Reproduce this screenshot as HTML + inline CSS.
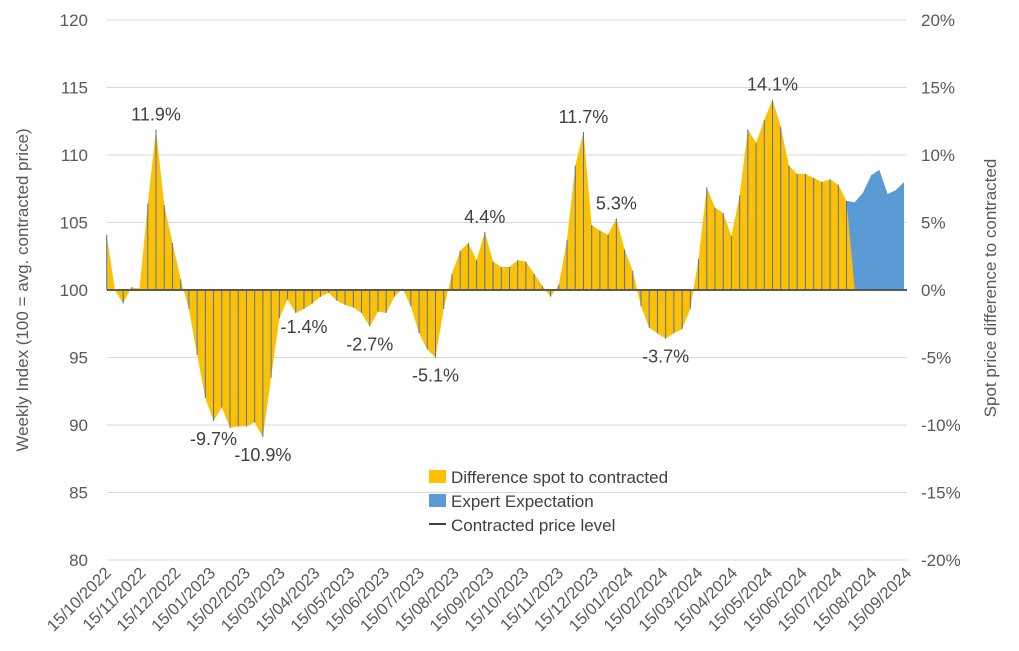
<!DOCTYPE html>
<html><head><meta charset="utf-8"><style>
body{margin:0;background:#fff;}
svg{display:block;font-family:"Liberation Sans",Arial,sans-serif;}
</style></head><body>
<svg id="chart" width="1019" height="651" viewBox="0 0 1019 651" xmlns="http://www.w3.org/2000/svg">
<g id="grid"></g><g id="marks"></g><g id="axes"></g><g id="labels"></g>
<g>
<rect x="429" y="470" width="17" height="13" fill="#ffc000"/>
<text x="451" y="483" font-size="17" fill="#404040">Difference spot to contracted</text>
<rect x="429" y="494" width="17" height="13" fill="#5b9bd5"/>
<text x="451" y="507" font-size="17" fill="#404040">Expert Expectation</text>
<line x1="429" y1="524" x2="446" y2="524" stroke="#404040" stroke-width="2"/>
<text x="451" y="531" font-size="17" fill="#404040">Contracted price level</text>
</g>
<text transform="translate(28,290) rotate(-90)" text-anchor="middle" font-size="17" fill="#595959">Weekly Index (100 = avg. contracted price)</text>
<text transform="translate(996,288) rotate(-90)" text-anchor="middle" font-size="17" fill="#595959">Spot price difference to contracted</text>
</svg>
<script>
const spot = [104.1,100.0,99.0,100.2,100.1,106.4,111.9,106.3,103.5,100.8,98.6,95.2,92.0,90.3,91.3,89.8,89.9,89.9,90.2,89.1,93.5,97.9,99.3,98.3,98.6,99.0,99.5,99.8,99.2,98.9,98.7,98.3,97.3,98.4,98.3,99.5,100.1,98.8,96.8,95.6,95.0,98.6,101.2,102.9,103.5,102.2,104.3,102.1,101.7,101.7,102.2,102.1,101.2,100.3,99.5,100.4,103.7,109.2,111.7,104.8,104.4,104.1,105.3,103.0,101.4,98.8,97.2,96.8,96.4,96.8,97.1,98.6,102.3,107.6,106.1,105.7,104.0,107.0,111.9,110.9,112.6,114.1,112.1,109.2,108.6,108.6,108.3,108.0,108.2,107.8,106.6];
const expert = [106.6,106.5,107.2,108.5,108.9,107.1,107.4,108.0];
const expertStart = 90;
const leftTicks = [80,85,90,95,100,105,110,115,120];
const rightTicks = ["-20%","-15%","-10%","-5%","0%","5%","10%","15%","20%"];
const dateLabels = ["15/10/2022","15/11/2022","15/12/2022","15/01/2023","15/02/2023","15/03/2023","15/04/2023","15/05/2023","15/06/2023","15/07/2023","15/08/2023","15/09/2023","15/10/2023","15/11/2023","15/12/2023","15/01/2024","15/02/2024","15/03/2024","15/04/2024","15/05/2024","15/06/2024","15/07/2024","15/08/2024","15/09/2024"];
const annWeeks = [6,13,19,24,32,40,46,58,62,68,81];
const annText = ["11.9%","-9.7%","-10.9%","-1.4%","-2.7%","-5.1%","4.4%","11.7%","5.3%","-3.7%","14.1%"];

const NS="http://www.w3.org/2000/svg";
const X=k=>106.7+k*8.22;
const Y=v=>290-(v-100)*13.5;
function mk(tag,attrs,parent){const e=document.createElementNS(NS,tag);for(const a in attrs)e.setAttribute(a,attrs[a]);parent.appendChild(e);return e;}
const grid=document.getElementById('grid'),marks=document.getElementById('marks'),axes=document.getElementById('axes'),labels=document.getElementById('labels');

leftTicks.forEach((t,i)=>{
  const g=mk('line',{x1:107,x2:907,y1:Y(t),y2:Y(t),stroke:'#d9d9d9','stroke-width':1},grid);
  
  
  const l=mk('text',{x:88,y:Y(t)+6,'text-anchor':'end','font-size':17,fill:'#595959'},axes);
  l.textContent=t;
  
  
  const r=mk('text',{x:921,y:Y(t)+6,'font-size':17,fill:'#595959'},axes);
  r.textContent=rightTicks[i];
  
  
});

let pe='M'+X(expertStart)+','+Y(100);
expert.forEach((v,i)=>{pe+=' L'+X(expertStart+i)+','+Y(v);});
pe+=' L'+X(expertStart+expert.length-1)+','+Y(100)+' Z';
const ea=mk('path',{d:pe,fill:'#5b9bd5'},marks);



let ps='M'+X(0)+','+Y(100);
spot.forEach((v,i)=>{ps+=' L'+X(i)+','+Y(v);});
ps+=' L'+X(spot.length)+','+Y(100)+' Z';
const sa=mk('path',{d:ps,fill:'#ffc000'},marks);



spot.forEach((v,i)=>{
  const l=mk('line',{x1:X(i),x2:X(i),y1:Y(100),y2:Y(v),stroke:'#4472c4','stroke-width':1},marks);
  
  
});

const base=mk('line',{x1:107,x2:907,y1:Y(100),y2:Y(100),stroke:'#595959','stroke-width':2},marks);



dateLabels.forEach((d,i)=>{
  const x=112+i*34.8;
  const t=mk('text',{x:x,y:574,'text-anchor':'end','font-size':16.5,fill:'#595959',transform:'rotate(-45 '+x+' 574)'},axes);
  t.textContent=d;
  
  
});

annWeeks.forEach((k,i)=>{
  const v=spot[k];
  const y=v>=100?Y(v)-9:Y(v)+24;
  const t=mk('text',{x:X(k),y:y,'text-anchor':'middle','font-size':18,fill:'#404040'},labels);
  t.textContent=annText[i];
  
  
});
</script>
</body></html>
